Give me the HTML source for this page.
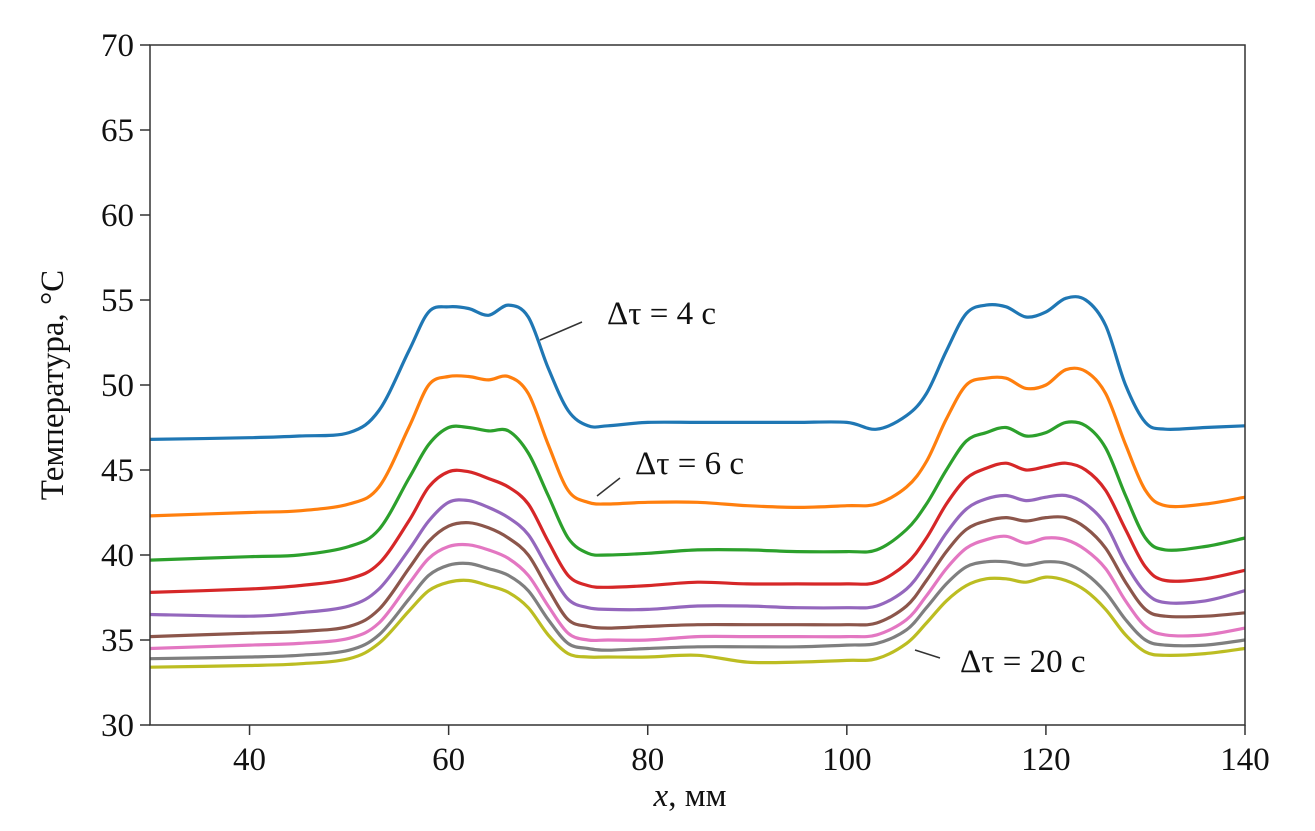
<!DOCTYPE html>
<html><head><meta charset="utf-8"><style>
html,body{margin:0;padding:0;background:#fff;}
svg text{font-family:"Liberation Serif",serif;fill:#111;}
</style></head><body>
<svg id="chart" width="1315" height="826" viewBox="0 0 1315 826" xmlns="http://www.w3.org/2000/svg">
<g id="grid"></g>
<g id="lines"></g>
<rect x="150" y="45" width="1095" height="680" fill="none" stroke="#333" stroke-width="1.5"/>
<g id="axes"></g>
<text x="690" y="806" font-size="33" text-anchor="middle"><tspan font-style="italic">x</tspan>, мм</text>
<text transform="translate(63,385) rotate(-90)" font-size="33" text-anchor="middle">Температура, °C</text>
<g>
<line x1="582" y1="322" x2="540" y2="340" stroke="#333" stroke-width="1.5"/>
<text x="607" y="324" font-size="33">Δτ = 4 с</text></g>
<g>
<line x1="620" y1="478" x2="597" y2="496" stroke="#333" stroke-width="1.5"/>
<text x="635" y="474" font-size="33">Δτ = 6 с</text></g>
<g>
<line x1="940" y1="658" x2="915" y2="650" stroke="#333" stroke-width="1.5"/>
<text x="960" y="672" font-size="33">Δτ = 20 с</text></g>
</svg>
<script>
const xs=[30,40,45,50,53,56,58,60,62,64,66,68,70,72,74,76,80,85,90,95,100,103,106,108,110,112,114,116,118,120,122,124,126,128,130,132,136,140];
const sBlue=[46.8,46.9,47.0,47.2,48.5,52,54.3,54.6,54.5,54.1,54.7,54.0,51.0,48.5,47.6,47.6,47.8,47.8,47.8,47.8,47.8,47.4,48.2,49.5,52,54.2,54.7,54.6,54.0,54.3,55.1,55.0,53.5,50,47.8,47.4,47.5,47.6];
const sOrange=[42.3,42.5,42.6,43.0,44,47.5,50,50.5,50.5,50.3,50.5,49.5,46.5,43.8,43.1,43.0,43.1,43.1,42.9,42.8,42.9,43.0,44,45.5,48,50,50.4,50.4,49.8,50.0,50.9,50.8,49.5,46.5,43.8,42.9,43.0,43.4];
const sGreen=[39.7,39.9,40.0,40.5,41.5,44.5,46.5,47.5,47.5,47.3,47.3,46.0,43.5,41.0,40.1,40.0,40.1,40.3,40.3,40.2,40.2,40.3,41.5,43,45,46.7,47.2,47.5,47.0,47.2,47.8,47.6,46.3,43.5,41,40.3,40.5,41.0];
const sRed=[37.8,38.0,38.2,38.6,39.5,42,44,44.9,44.9,44.5,44.0,43.0,40.8,38.8,38.2,38.1,38.2,38.4,38.3,38.3,38.3,38.4,39.5,41,43,44.5,45.1,45.4,45.0,45.2,45.4,45.0,43.8,41.5,39.3,38.5,38.6,39.1];
const sPurple=[36.5,36.4,36.6,37.0,38.0,40.3,42,43.1,43.2,42.8,42.2,41.2,39.2,37.4,36.9,36.8,36.8,37.0,37.0,36.9,36.9,37.0,38.0,39.5,41.3,42.7,43.3,43.5,43.2,43.4,43.5,43.0,41.8,39.5,37.8,37.2,37.3,37.9];
const sBrown=[35.2,35.4,35.5,35.8,36.8,39.2,40.8,41.7,41.9,41.6,41.0,40.0,38.0,36.2,35.8,35.7,35.8,35.9,35.9,35.9,35.9,36.0,37.0,38.5,40.2,41.5,42.0,42.2,42.0,42.2,42.2,41.6,40.4,38.4,36.8,36.4,36.4,36.6];
const sPink=[34.5,34.7,34.8,35.1,36.0,38.3,39.8,40.5,40.6,40.3,39.8,38.8,37.0,35.4,35.0,35.0,35.0,35.2,35.2,35.2,35.2,35.3,36.2,37.6,39.2,40.4,40.9,41.1,40.7,41.0,40.9,40.3,39.2,37.3,35.8,35.3,35.3,35.7];
const sGray=[33.9,34.0,34.1,34.4,35.3,37.4,38.8,39.4,39.5,39.2,38.8,37.9,36.2,34.8,34.5,34.4,34.5,34.6,34.6,34.6,34.7,34.8,35.6,36.9,38.3,39.3,39.6,39.6,39.4,39.6,39.5,38.9,37.8,36.2,35.0,34.7,34.7,35.0];
const sOlive=[33.4,33.5,33.6,33.9,34.8,36.7,37.9,38.4,38.5,38.2,37.8,36.9,35.3,34.2,34.0,34.0,34.0,34.1,33.7,33.7,33.8,33.9,34.8,36.0,37.3,38.2,38.6,38.6,38.4,38.7,38.5,37.9,36.8,35.3,34.3,34.1,34.2,34.5];
const xTicks=[40,60,80,100,120,140];
const yTicks=[30,35,40,45,50,55,60,65,70];
const seriesNames=["dt-4s","dt-6s","series-3","series-4","series-5","series-6","series-7","series-8","dt-20s"];
const seriesData=[sBlue,sOrange,sGreen,sRed,sPurple,sBrown,sPink,sGray,sOlive];
const colors=["#1f77b4","#ff7f0e","#2ca02c","#d62728","#9467bd","#8c564b","#e377c2","#7f7f7f","#bcbd22"];
const X=v=>150+(v-30)*1095/110, Y=v=>725-(v-30)*680/40;
const NS="http://www.w3.org/2000/svg";
const axes=document.getElementById('axes'), lines=document.getElementById('lines');
xTicks.forEach(t=>{
 const l=document.createElementNS(NS,'line');
 
 
 l.setAttribute('x1',X(t));l.setAttribute('x2',X(t));l.setAttribute('y1',725);l.setAttribute('y2',735);l.setAttribute('stroke','#333');l.setAttribute('stroke-width','1.5');axes.appendChild(l);
 const tx=document.createElementNS(NS,'text');
 
 
 tx.setAttribute('x',X(t));tx.setAttribute('y',770);tx.setAttribute('font-size','33');tx.setAttribute('text-anchor','middle');tx.textContent=t;axes.appendChild(tx);
});
yTicks.forEach(t=>{
 const l=document.createElementNS(NS,'line');
 
 
 l.setAttribute('x1',140);l.setAttribute('x2',150);l.setAttribute('y1',Y(t));l.setAttribute('y2',Y(t));l.setAttribute('stroke','#333');l.setAttribute('stroke-width','1.5');axes.appendChild(l);
 const tx=document.createElementNS(NS,'text');
 
 
 tx.setAttribute('x',134);tx.setAttribute('y',Y(t)+11);tx.setAttribute('font-size','33');tx.setAttribute('text-anchor','end');tx.textContent=t;axes.appendChild(tx);
});
function smooth(pts){
 let d='M'+pts[0][0]+','+pts[0][1];
 for(let i=0;i<pts.length-1;i++){
  const p0=pts[i-1]||pts[i],p1=pts[i],p2=pts[i+1],p3=pts[i+2]||p2;
  const c1x=p1[0]+(p2[0]-p0[0])/6,c1y=p1[1]+(p2[1]-p0[1])/6,c2x=p2[0]-(p3[0]-p1[0])/6,c2y=p2[1]-(p3[1]-p1[1])/6;
  d+=' C'+c1x+','+c1y+' '+c2x+','+c2y+' '+p2[0]+','+p2[1];
 }
 return d;
}
seriesData.forEach((s,k)=>{
 const p=document.createElementNS(NS,'path');
 
 
 p.setAttribute('d',smooth(xs.map((x,i)=>[X(x),Y(s[i])])));
 p.setAttribute('fill','none');p.setAttribute('stroke',colors[k]);p.setAttribute('stroke-width','3.2');
 lines.appendChild(p);
});
</script>
</body></html>
